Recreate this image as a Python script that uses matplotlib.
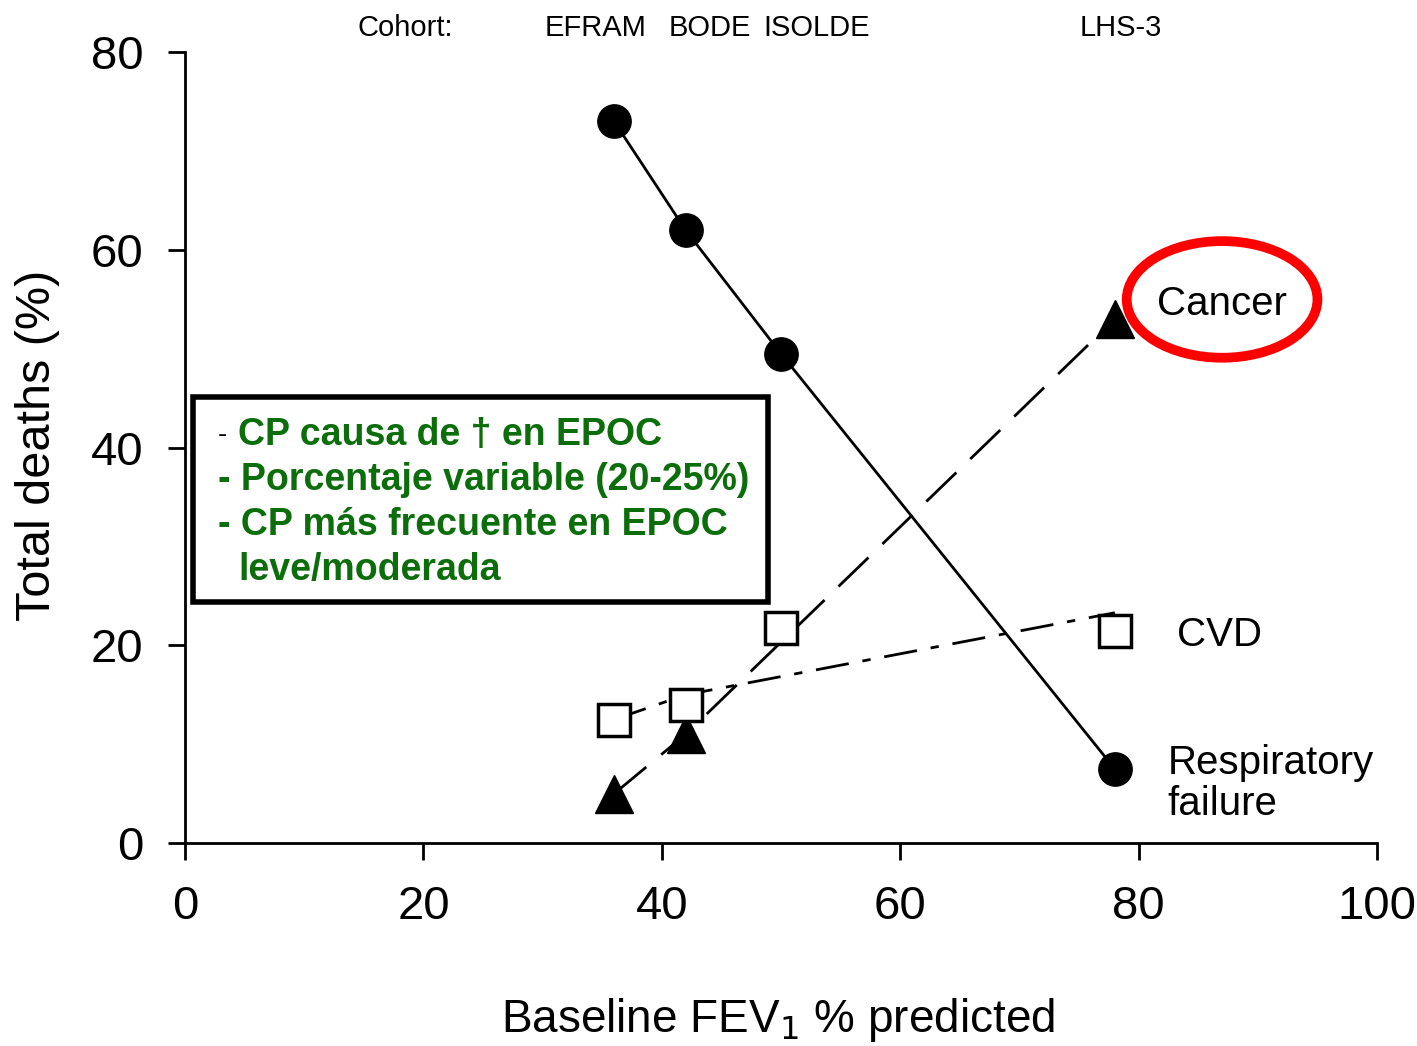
#!/usr/bin/env python3

import matplotlib
matplotlib.use("Agg")
import matplotlib.pyplot as plt
from matplotlib.patches import Ellipse

# FEV1 % predicted for each cohort
cohorts = ["EFRAM", "BODE", "ISOLDE", "LHS-3"]
fev1 = [36, 42, 50, 78]

# total deaths (%) by cause
resp_failure = [73, 62, 49.5, 7.5]
cancer_x = [36, 42, 78]
cancer = [5, 11, 53]
cvd = [12.5, 14, 21.8, 21.5]
cvd_line_x = [36, 42, 78]
cvd_line_y = [12.5, 15, 23.3]

box_lines = ["CP causa de \u2020 en EPOC",
             "Porcentaje variable (20-25%)",
             "CP m\u00e1s frecuente en EPOC",
             "leve/moderada"]

FONT = ["Liberation Sans", "DejaVu Sans"]
GREEN = "#0b6e0b"


def main():
    fig = plt.figure(figsize=(14.17, 10.46), dpi=100)
    ax = fig.add_axes([0.1306, 0.194, 0.8412, 0.756])

    ax.plot(fev1, resp_failure, "-", color="black", lw=2, marker="o",
            ms=24, mfc="black", zorder=3)
    ax.plot(cancer_x, cancer, color="black", lw=2, ls=(0, (15, 7)),
            marker="^", ms=28, mfc="black", zorder=3)
    ax.plot(cvd_line_x, cvd_line_y, color="black", lw=2,
            ls=(0, (12, 5, 3, 5)), zorder=2)
    ax.plot(fev1, cvd, ls="none", marker="s", ms=23, mfc="white",
            mec="black", mew=2.5, zorder=4)

    ax.set_xlim(0, 100)
    ax.set_ylim(0, 80)
    ax.set_xticks(range(0, 101, 20))
    ax.set_yticks(range(0, 81, 20))
    ax.spines["top"].set_visible(False)
    ax.spines["right"].set_visible(False)
    for s in ("left", "bottom"):
        ax.spines[s].set_linewidth(2)
    ax.tick_params(direction="out", length=12, width=2, labelsize=34, pad=18)
    for lab in ax.get_xticklabels() + ax.get_yticklabels():
        lab.set_family(FONT)

    fig.text(778 / 1417, 1 - 1020 / 1046, "Baseline FEV$_1$ % predicted",
             fontsize=33, family=FONT, ha="center", va="center")
    fig.text(38 / 1417, 1 - 445 / 1046, "Total deaths (%)", fontsize=35,
             family=FONT, ha="center", va="center", rotation=90)

    # cohort labels above the axes
    ax.text(18.5, 82.5, "Cohort:", fontsize=21, family=FONT, ha="center",
            va="center", clip_on=False)
    for name, xx in zip(cohorts, [34.4, 44.0, 53.0, 78.5]):
        ax.text(xx, 82.5, name, fontsize=21, family=FONT, ha="center",
                va="center", clip_on=False)

    # series labels
    ax.text(87.0, 54.5, "Cancer", fontsize=29, family=FONT, ha="center",
            va="center")
    ax.add_patch(Ellipse((87.0, 55.0), 16.0, 11.8, fill=False,
                         edgecolor="red", lw=7, zorder=5))
    ax.text(83.2, 21.0, "CVD", fontsize=29, family=FONT, ha="left",
            va="center")
    ax.text(82.4, 6.0, "Respiratory\nfailure", fontsize=29, family=FONT,
            ha="left", va="center", linespacing=1.1)

    # annotation box
    fig.patches.append(plt.Rectangle((193 / 1417, 1 - 602 / 1046),
                                     575 / 1417, 205 / 1046,
                                     transform=fig.transFigure, fill=True,
                                     facecolor="white", edgecolor="black",
                                     lw=4, zorder=6))
    y0 = 1 - 435 / 1046
    step = 45 / 1046
    fig.text(218 / 1417, y0, "-", fontsize=20, color="black",
             family=FONT, va="center", zorder=7)
    for i, line in enumerate(box_lines):
        prefix = "" if i in (0, 3) else "- "
        xx = 238 / 1417 if i in (0, 3) else 218 / 1417
        fig.text(xx, y0 - i * step, prefix + line, fontsize=27, color=GREEN,
                 weight="bold", family=FONT, va="center", zorder=7)

    fig.savefig("out.png", dpi=100)


if __name__ == "__main__":
    main()
